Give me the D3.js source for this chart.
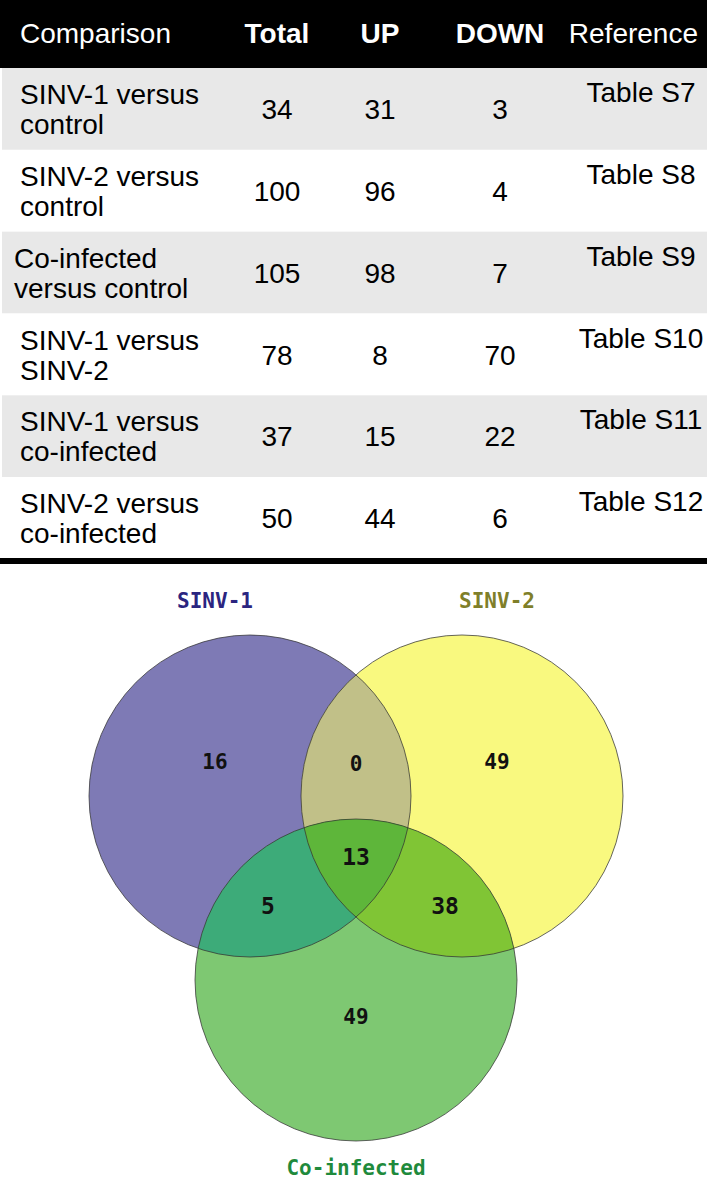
<!DOCTYPE html>
<html lang="en">

<head>
    <meta charset="utf-8">
    <title>Differentially expressed genes: comparisons and Venn diagram</title>
    <script src="https://d3js.org/d3.v7.min.js"></script>
    <style>
        body { margin: 0; background: #fff; }
        .cell { font-family: "Liberation Sans", Arial, sans-serif; font-size: 28px; fill: #000; }
        .head { fill: #fff; }
        .bold { font-weight: bold; }
        .setlabel { font-family: "DejaVu Sans Mono", monospace; font-size: 21px; font-weight: bold; }
        .count { font-family: "DejaVu Sans Mono", monospace; font-weight: bold; fill: #111; }
    </style>
</head>

<body>
    <script type="text/javascript">

        //Consts
        const w = 709;
        const h = 1180;

        // Data - table of comparisons
        const headers = ["Comparison", "Total", "UP", "DOWN", "Reference"];
        const comparisons = [
            ["SINV-1 versus", "control"],
            ["SINV-2 versus", "control"],
            ["Co-infected", "versus control"],
            ["SINV-1 versus", "SINV-2"],
            ["SINV-1 versus", "co-infected"],
            ["SINV-2 versus", "co-infected"]
        ];
        const totals = [34, 100, 105, 78, 37, 50];
        const ups = [31, 96, 98, 8, 15, 44];
        const downs = [3, 4, 7, 70, 22, 6];
        const refs = ["Table S7", "Table S8", "Table S9", "Table S10", "Table S11", "Table S12"];

        // Data - venn diagram
        const setNames = ["SINV-1", "SINV-2", "Co-infected"];
        const regionKeys = ["100", "010", "001", "110", "101", "011", "111"];
        const regionCounts = [16, 49, 49, 0, 5, 38, 13];

        const svg = d3.select("body")
            .append("svg")
            .attr("width", w)
            .attr("height", h);

        // ---------- table ----------
        const headH = 68;
        const tableBottom = 559;

        const rowScale = d3.scaleBand()
            .domain(d3.range(comparisons.length))
            .range([headH, tableBottom]);

        // column centres
        const colX = { total: 277, up: 380, down: 500, ref: 641 };
        const textIndent = [20, 20, 14, 20, 20, 20];

        svg.append("rect")
            .attr("x", 0).attr("y", 0)
            .attr("width", 707).attr("height", headH)
            .attr("fill", "#000");

        const headPos = [
            { x: 20, anchor: "start" },
            { x: colX.total, anchor: "middle" },
            { x: colX.up, anchor: "middle" },
            { x: colX.down, anchor: "middle" },
            { x: 698, anchor: "end" }
        ];

        svg.selectAll(".head")
            .data(headers)
            .join("text")
            .attr("class", (d, i) => "cell head" + (i > 0 && i < 4 ? " bold" : ""))
            .attr("x", (d, i) => headPos[i].x)
            .attr("y", 43)
            .attr("text-anchor", (d, i) => headPos[i].anchor)
            .text(d => d);

        //row bands
        svg.selectAll(".band")
            .data(comparisons)
            .join("rect")
            .attr("class", "band")
            .attr("x", 2)
            .attr("y", (d, i) => rowScale(i))
            .attr("width", 705)
            .attr("height", rowScale.bandwidth())
            .attr("fill", (d, i) => i % 2 === 0 ? "#e8e8e8" : "#fff");

        const rows = svg.selectAll(".row")
            .data(comparisons)
            .join("g")
            .attr("class", "row")
            .attr("transform", (d, i) => "translate(0," + rowScale(i) + ")");

        rows.append("text")
            .attr("class", "cell")
            .attr("x", (d, i) => textIndent[i])
            .attr("y", 36)
            .text(d => d[0]);

        rows.append("text")
            .attr("class", "cell")
            .attr("x", (d, i) => textIndent[i])
            .attr("y", 66)
            .text(d => d[1]);

        rows.append("text")
            .attr("class", "cell")
            .attr("x", colX.total).attr("y", 51)
            .attr("text-anchor", "middle")
            .text((d, i) => totals[i]);

        rows.append("text")
            .attr("class", "cell")
            .attr("x", colX.up).attr("y", 51)
            .attr("text-anchor", "middle")
            .text((d, i) => ups[i]);

        rows.append("text")
            .attr("class", "cell")
            .attr("x", colX.down).attr("y", 51)
            .attr("text-anchor", "middle")
            .text((d, i) => downs[i]);

        rows.append("text")
            .attr("class", "cell")
            .attr("x", colX.ref).attr("y", 34)
            .attr("text-anchor", "middle")
            .text((d, i) => refs[i]);

        //bottom rule
        svg.append("rect")
            .attr("x", 0).attr("y", 558)
            .attr("width", 707).attr("height", 6)
            .attr("fill", "#000");

        // ---------- venn ----------
        const r = 161;
        const circles = [
            { cx: 250, cy: 796 },
            { cx: 462, cy: 796 },
            { cx: 356, cy: 980 }
        ];
        const setColors = ["#7e7ab5", "#f9f97f", "#7ec872"];
        const labelColors = ["#2b2580", "#7f7f2a", "#1f8a3c"];
        const labelPos = [[215, 608], [497, 608], [356, 1175]];

        const regionColor = {
            "110": "#c1c088",
            "101": "#3dab79",
            "011": "#80c535",
            "111": "#5eb63a"
        };
        const regionPos = {
            "100": [215, 761], "010": [497, 761], "001": [356, 1016],
            "110": [356, 763], "101": [268, 906], "011": [445, 906], "111": [356, 857]
        };
        // the three lower counts are set a little larger in the original
        const regionSize = { "101": 23, "011": 23, "111": 23 };

        const defs = svg.append("defs");
        circles.forEach((c, i) => {
            defs.append("clipPath")
                .attr("id", "clip" + i)
                .append("circle")
                .attr("cx", c.cx).attr("cy", c.cy).attr("r", r);
        });

        const venn = svg.append("g");

        // single sets first
        venn.selectAll(".set")
            .data(circles)
            .join("circle")
            .attr("class", "set")
            .attr("cx", d => d.cx).attr("cy", d => d.cy).attr("r", r)
            .attr("fill", (d, i) => setColors[i]);

        // overlaps painted on top through clip paths
        ["110", "101", "011", "111"].forEach(key => {
            const idx = key.split("").map((c, i) => c === "1" ? i : -1).filter(i => i >= 0);
            let g = venn;
            idx.slice(0, -1).forEach(i => {
                g = g.append("g").attr("clip-path", "url(#clip" + i + ")");
            });
            const last = circles[idx[idx.length - 1]];
            g.append("circle")
                .attr("cx", last.cx).attr("cy", last.cy).attr("r", r)
                .attr("fill", regionColor[key]);
        });

        //outlines
        venn.selectAll(".outline")
            .data(circles)
            .join("circle")
            .attr("class", "outline")
            .attr("cx", d => d.cx).attr("cy", d => d.cy).attr("r", r)
            .attr("fill", "none")
            .attr("stroke", "#333")
            .attr("stroke-opacity", 0.75)
            .attr("stroke-width", 1);

        venn.selectAll(".count")
            .data(regionKeys)
            .join("text")
            .attr("class", "count")
            .attr("font-size", d => (regionSize[d] || 21) + "px")
            .attr("x", d => regionPos[d][0])
            .attr("y", d => regionPos[d][1] + (regionSize[d] || 21) * 0.36)
            .attr("text-anchor", "middle")
            .text((d, i) => regionCounts[i]);

        venn.selectAll(".setlabel")
            .data(setNames)
            .join("text")
            .attr("class", "setlabel")
            .attr("x", (d, i) => labelPos[i][0])
            .attr("y", (d, i) => labelPos[i][1])
            .attr("text-anchor", "middle")
            .attr("fill", (d, i) => labelColors[i])
            .text(d => d);

    </script>
</body>

</html>
